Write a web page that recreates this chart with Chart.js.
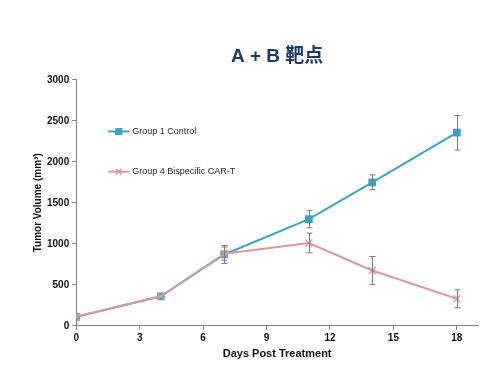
<!DOCTYPE html>
<html><head><meta charset="utf-8">
<script src="https://cdn.jsdelivr.net/npm/chart.js@4.4.0/dist/chart.umd.min.js"></script>
<style>html,body{margin:0;padding:0;background:#fff}#wrap{width:500px;height:382px}</style>
</head><body><div id="wrap"><canvas id="c" width="500" height="382"></canvas></div>
<script>
const titleText = 'A + B 靶点';
const seriesNames = ['Group 1 Control', 'Group 4 Bispecific CAR-T'];
const days = [0, 4, 7, 11, 14, 18];
const g1Values = [110, 360, 870, 1300, 1750, 2355];
const g1Err = [20, 30, 110, 105, 90, 210];
const g4Values = [110, 360, 880, 1010, 675, 330];
const g4Err = [20, 30, 80, 120, 170, 110];
const xTicks = [0, 3, 6, 9, 12, 15, 18];
const yTicks = [0, 500, 1000, 1500, 2000, 2500, 3000];
const xTitle = 'Days Post Treatment';
const yTitle = 'Tumor Volume (mm³)';

const c1 = '#3aa5c3', c4 = '#d69c9c';
const mk = (vals) => days.map((d, i) => ({x: d, y: vals[i]}));

const errPlugin = {
  id: 'err',
  afterDatasetsDraw(chart) {
    const ctx = chart.ctx, xs = chart.scales.x, ys = chart.scales.y;
    const sets = [[g1Values, g1Err], [g4Values, g4Err]];
    ctx.save();
    ctx.strokeStyle = '#7a7a7a'; ctx.lineWidth = 1;
    sets.forEach(([v, e]) => {
      days.forEach((d, i) => {
        if (e[i] < 40) return;
        const px = Math.round(xs.getPixelForValue(d)) + 0.5;
        const t = ys.getPixelForValue(v[i] + e[i]);
        const b = ys.getPixelForValue(v[i] - e[i]);
        ctx.beginPath();
        ctx.moveTo(px, t); ctx.lineTo(px, b);
        ctx.moveTo(px - 3, t); ctx.lineTo(px + 3, t);
        ctx.moveTo(px - 3, b); ctx.lineTo(px + 3, b);
        ctx.stroke();
      });
    });
    ctx.restore();
  }
};

const legendPlugin = {
  id: 'ilegend',
  afterDraw(chart) {
    const ctx = chart.ctx, a = chart.chartArea;
    const items = [[seriesNames[0], c1, 'rect'], [seriesNames[1], c4, 'crossRot']];
    const ys = chart.scales.y;
    const rows = [ys.getPixelForValue(2370), ys.getPixelForValue(1880)];
    ctx.save();
    items.forEach(([label, col, style], i) => {
      const y = rows[i];
      const x0 = a.left + 32, x1 = a.left + 53;
      ctx.strokeStyle = col; ctx.fillStyle = col; ctx.lineWidth = 2;
      ctx.beginPath(); ctx.moveTo(x0, y); ctx.lineTo(x1, y); ctx.stroke();
      ctx.lineWidth = 1.5;
      Chart.helpers.drawPoint(ctx, {pointStyle: style, radius: 4, borderWidth: 1.5}, (x0 + x1) / 2, y);
      ctx.fillStyle = '#2a2a2a';
      ctx.font = '9px "Liberation Sans", Arial, sans-serif';
      ctx.textBaseline = 'middle';
      ctx.fillText(label, x1 + 3, y);
    });
    ctx.restore();
  }
};

new Chart(document.getElementById('c'), {
  type: 'line',
  data: {
    datasets: [
      {label: seriesNames[0], data: mk(g1Values), borderColor: c1, backgroundColor: c1,
       pointStyle: 'rect', pointRadius: 5.5, pointBorderWidth: 0, borderWidth: 2, order: 2, tension: 0},
      {label: seriesNames[1], data: mk(g4Values), borderColor: c4, backgroundColor: c4,
       pointStyle: 'crossRot', pointRadius: 5, pointBorderWidth: 1.5, borderWidth: 2, order: 1, tension: 0}
    ]
  },
  options: {
    responsive: false, animation: false,
    layout: {padding: {left: 28, right: 22, top: 0, bottom: 17}},
    plugins: {
      legend: {display: false}, tooltip: {enabled: false},
      title: {display: true, text: titleText, fullSize: false, color: '#1f3a68',
        font: {family: '"Liberation Sans", "Noto Sans CJK SC", sans-serif', size: 19, weight: 'bold'},
        padding: {top: 45, bottom: 12}}
    },
    scales: {
      x: {type: 'linear', min: 0, max: 19,
        afterBuildTicks: (s) => { s.ticks = xTicks.map(v => ({value: v})); },
        grid: {drawOnChartArea: false, color: '#808080', tickLength: 4, tickColor: '#808080'},
        border: {color: '#808080', width: 1},
        ticks: {color: '#111', font: {family: '"Liberation Sans", Arial, sans-serif', size: 10, weight: 'bold'}, padding: 2, maxRotation: 0,
          callback: (v) => String(v)},
        title: {display: true, text: xTitle, color: '#111', padding: {top: 2},
          font: {family: '"Liberation Sans", Arial, sans-serif', size: 11, weight: 'bold'}}
      },
      y: {min: 0, max: 3000,
        afterBuildTicks: (s) => { s.ticks = yTicks.map(v => ({value: v})); },
        grid: {drawOnChartArea: false, color: '#808080', tickLength: 4, tickColor: '#808080'},
        border: {color: '#808080', width: 1},
        ticks: {color: '#111', font: {family: '"Liberation Sans", Arial, sans-serif', size: 10, weight: 'bold'}, padding: 3,
          callback: (v) => String(v)},
        title: {display: true, text: yTitle, color: '#111', padding: {bottom: 0},
          font: {family: '"Liberation Sans", Arial, sans-serif', size: 10, weight: 'bold'}}
      }
    }
  },
  plugins: [errPlugin, legendPlugin]
});
</script></body></html>
